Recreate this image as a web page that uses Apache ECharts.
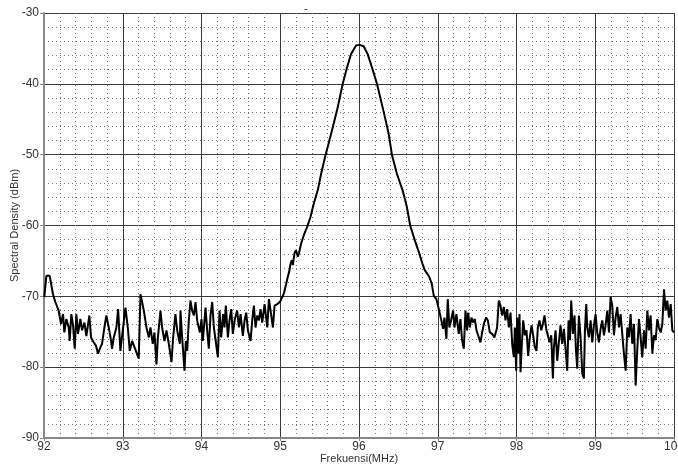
<!DOCTYPE html>
<html>
<head>
<meta charset="utf-8">
<script src="https://cdn.jsdelivr.net/npm/echarts@6/dist/echarts.min.js"></script>
<style>html,body{margin:0;padding:0;background:#fff}#c{width:678px;height:468px}</style>
</head>
<body>
<div id="c"></div>
<script>
// Noise floor below the carrier (92–95 MHz)
const lowFreq = [92.004,92.030,92.072,92.114,92.144,92.165,92.186,92.216,92.242,92.258,
92.284,92.314,92.326,92.347,92.369,92.390,92.411,92.432,92.462,92.483,
92.513,92.538,92.576,92.597,92.631,92.661,92.686,92.716,92.737,92.767,
92.792,92.822,92.852,92.864,92.886,92.919,92.941,92.970,93.034,93.064,
93.089,93.119,93.174,93.203,93.225,93.246,93.275,93.301,93.331,93.352,
93.381,93.403,93.428,93.445,93.479,93.500,93.530,93.555,93.585,93.619,
93.640,93.669,93.691,93.725,93.733,93.754,93.784,93.801,93.818,93.839,
93.860,93.881,93.903,93.924,93.945,93.979,94.000,94.017,94.038,94.051,
94.072,94.093,94.114,94.136,94.157,94.208,94.229,94.250,94.275,94.292,
94.309,94.335,94.356,94.377,94.398,94.424,94.453,94.475,94.496,94.525,
94.547,94.568,94.589,94.623,94.644,94.665,94.686,94.708,94.729,94.750,
94.771,94.801,94.835,94.856,94.877,94.907,94.928,94.962,94.996];
const lowDbm = [-70.1,-67.1,-67.1,-69.7,-70.8,-70.6,-72.0,-73.9,-72.5,-75.1,
-73.2,-74.4,-76.3,-72.5,-74.1,-77.4,-72.5,-75.3,-73.2,-74.8,
-73.7,-75.6,-72.7,-75.8,-76.5,-77.0,-78.1,-77.2,-76.7,-74.4,
-72.7,-74.4,-76.3,-77.4,-75.8,-74.4,-71.8,-77.7,-71.6,-74.4,
-77.7,-76.3,-77.9,-78.8,-69.7,-70.8,-72.5,-74.4,-75.8,-74.4,
-76.7,-75.1,-79.6,-76.0,-72.0,-74.4,-76.3,-74.8,-76.7,-79.3,
-75.8,-72.5,-74.8,-76.7,-72.0,-75.8,-80.5,-76.3,-77.7,-73.4,
-70.6,-72.0,-72.7,-70.8,-73.4,-75.1,-73.2,-76.3,-73.4,-71.6,
-74.8,-77.4,-72.7,-70.8,-74.4,-78.6,-72.0,-75.8,-72.5,-74.4,
-71.3,-75.8,-73.4,-71.8,-75.3,-73.2,-72.0,-74.4,-72.5,-75.6,
-73.4,-72.3,-74.8,-76.3,-73.4,-71.3,-74.4,-72.7,-73.4,-71.8,
-73.7,-71.1,-74.4,-70.4,-72.0,-74.4,-71.3,-71.1,-70.8];

// Carrier peak (95–97 MHz)
const peakFreq = [95.046,95.076,95.097,95.118,95.13,95.148,95.16,95.181,95.2,95.224,
95.24,95.266,95.308,95.342,95.384,95.426,95.477,95.519,95.57,95.624,
95.679,95.73,95.793,95.848,95.899,95.962,96.004,96.059,96.11,96.165,
96.228,96.278,96.329,96.376,96.418,96.481,96.553,96.608,96.65,96.709,
96.764,96.806,96.835,96.89,96.924];
const peakDbm = [-69.6,-68.2,-67.2,-66.3,-65.4,-64.9,-65.6,-63.9,-63.5,-64.4,
-63.8,-62.5,-61.1,-60.2,-58.8,-56.9,-55.0,-52.7,-50.3,-48.0,
-45.6,-43.3,-40.0,-37.7,-35.8,-34.6,-34.5,-34.7,-35.8,-37.7,
-40.0,-42.3,-44.7,-47.0,-50.0,-52.7,-55.0,-57.4,-60.0,-62.1,
-63.9,-65.4,-66.3,-67.2,-68.2];

// Noise floor above the carrier (97–100 MHz)
const highFreq = [96.949,96.983,97.013,97.042,97.068,97.085,97.110,97.127,97.148,97.169,
97.195,97.212,97.237,97.267,97.288,97.309,97.331,97.352,97.373,97.386,
97.407,97.428,97.449,97.470,97.492,97.513,97.542,97.564,97.585,97.614,
97.636,97.661,97.691,97.720,97.754,97.775,97.797,97.818,97.839,97.860,
97.881,97.903,97.924,97.945,97.966,97.979,97.996,98.008,98.021,98.038,
98.051,98.068,98.085,98.106,98.127,98.148,98.169,98.191,98.212,98.233,
98.254,98.271,98.292,98.314,98.335,98.356,98.377,98.398,98.419,98.441,
98.462,98.475,98.496,98.517,98.538,98.559,98.581,98.602,98.623,98.644,
98.661,98.678,98.695,98.716,98.737,98.754,98.771,98.792,98.814,98.835,
98.856,98.869,98.886,98.898,98.919,98.941,98.962,98.983,99.004,99.025,
99.047,99.068,99.089,99.110,99.131,99.153,99.174,99.195,99.216,99.237,
99.258,99.280,99.301,99.322,99.343,99.364,99.386,99.407,99.428,99.449,
99.470,99.492,99.513,99.534,99.555,99.576,99.597,99.619,99.640,99.661,
99.682,99.703,99.725,99.746,99.767,99.788,99.809,99.831,99.852,99.873,
99.894,99.915,99.936,99.958,99.979,100.0];
const highDbm = [-69.9,-70.4,-71.8,-73.2,-74.6,-73.0,-76.0,-70.4,-74.4,-73.4,
-72.0,-74.4,-72.5,-75.3,-73.2,-76.2,-77.4,-72.0,-74.8,-72.3,
-74.4,-73.0,-73.7,-73.2,-74.8,-75.5,-76.5,-75.1,-73.9,-73.0,
-73.4,-75.1,-75.3,-75.8,-74.4,-70.6,-71.3,-72.7,-71.5,-73.4,
-71.8,-74.4,-72.3,-76.7,-78.6,-74.4,-80.5,-73.0,-78.1,-72.5,
-80.7,-76.7,-73.4,-75.5,-74.8,-78.4,-75.8,-74.1,-75.5,-77.2,
-77.7,-74.4,-73.4,-74.8,-73.9,-72.7,-74.6,-75.5,-76.5,-75.5,
-81.6,-77.2,-74.8,-79.1,-76.5,-74.1,-76.7,-74.6,-77.4,-80.5,
-73.4,-76.2,-70.6,-75.3,-72.7,-77.4,-80.2,-72.7,-75.8,-80.9,
-81.6,-74.8,-71.1,-74.4,-75.8,-73.4,-76.5,-74.1,-72.5,-75.1,
-76.5,-74.6,-73.4,-75.5,-74.1,-72.0,-75.1,-70.1,-71.3,-75.5,
-73.0,-71.5,-74.4,-72.5,-75.3,-78.1,-80.5,-74.4,-75.8,-72.5,
-76.7,-73.9,-82.6,-77.4,-73.2,-75.8,-78.6,-74.8,-77.4,-72.0,
-74.8,-72.7,-78.1,-75.5,-76.2,-73.2,-74.4,-75.1,-73.9,-69.0,
-72.0,-70.6,-73.0,-71.1,-74.8,-75.1];

const xTicks = [92, 93, 94, 95, 96, 97, 98, 99, 100];
const yTicks = [-90, -80, -70, -60, -50, -40, -30];

const freqs = lowFreq.concat(peakFreq, highFreq);
const dbms = lowDbm.concat(peakDbm, highDbm);
const points = freqs.map((f, i) => [f, dbms[i]]);

const font = 'Liberation Sans, Arial, sans-serif';
const chart = echarts.init(document.getElementById('c'), null, {renderer: 'canvas'});
const majorLine = {show: true, lineStyle: {color: '#3a3a3a', width: 1}};
const minorLine = {show: true, lineStyle: {color: '#777', width: 1, type: [1, 3]}};
chart.setOption({
  animation: false,
  backgroundColor: '#fff',
  title: {text: '-', left: 299, top: -2, textStyle: {fontSize: 11, fontWeight: 'normal', color: '#333', fontFamily: font}},
  grid: {left: 44, right: 4, top: 13, bottom: 30, containLabel: false, outerBoundsMode: 'none'},
  xAxis: {
    type: 'value', min: xTicks[0], max: xTicks[xTicks.length - 1], interval: 1,
    name: 'Frekuensi(MHz)', nameLocation: 'middle', nameGap: 15, nameMoveOverlap: false,
    nameTextStyle: {fontSize: 11, color: '#333', fontFamily: font},
    axisLine: {show: true, onZero: false, lineStyle: {color: '#888', width: 2}},
    axisTick: {show: true, length: 3, lineStyle: {color: '#888'}},
    axisLabel: {fontSize: 12, color: '#333', margin: 3, fontFamily: font, hideOverlap: false},
    splitLine: majorLine,
    minorTick: {show: false, splitNumber: 5},
    minorSplitLine: minorLine
  },
  yAxis: {
    type: 'value', min: yTicks[0], max: yTicks[yTicks.length - 1], interval: 10,
    name: 'Spectral Density (dBm)', nameLocation: 'middle', nameGap: 24, nameMoveOverlap: false,
    nameTextStyle: {fontSize: 11, color: '#333', fontFamily: font},
    axisLine: {show: true, onZero: false, lineStyle: {color: '#888', width: 2}},
    axisTick: {show: true, length: 4, lineStyle: {color: '#888'}},
    axisLabel: {fontSize: 12, color: '#333', margin: 5, fontFamily: font},
    splitLine: majorLine,
    minorTick: {show: false, splitNumber: 5},
    minorSplitLine: minorLine
  },
  series: [{
    type: 'line', data: points, showSymbol: false, symbol: 'none',
    lineStyle: {color: '#000', width: 2}, clip: true
  }]
});
</script>
</body>
</html>
